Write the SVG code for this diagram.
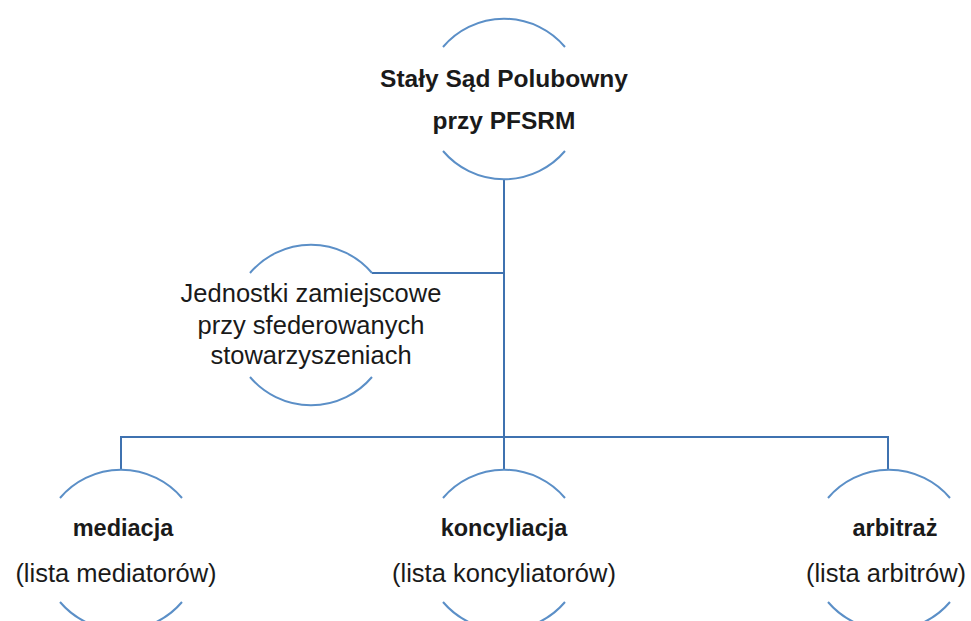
<svg xmlns="http://www.w3.org/2000/svg" width="971" height="621" viewBox="0 0 971 621">
<style>
.arc{fill:none;stroke:#5b8fc7;stroke-width:2}
.ln{fill:none;stroke:#3f72b0;stroke-width:2}
text{font-family:"Liberation Sans",Arial,sans-serif;fill:#1a1a1a;text-anchor:middle;font-size:25.5px}
.b{font-weight:bold;font-size:23.5px}
.bt{font-size:24.5px}
</style>
<rect width="971" height="621" fill="#fff"/>
<g id="connectors">
<path class="ln" d="M504 179 V437"/>
<path class="ln" d="M372 273 H504"/>
<path class="ln" d="M121 470 V437 H888 V470"/>
<path class="ln" d="M504 437 V470"/>
</g>
<g id="node-top">
<path class="arc" d="M443 47 A80 80 0 0 1 565 47"/>
<path class="arc" d="M443 151 A80 80 0 0 0 565 151"/>
<text class="b bt" x="504" y="87">Stały Sąd Polubowny</text>
<text class="b bt" x="504" y="129">przy PFSRM</text>
</g>
<g id="node-jednostki">
<path class="arc" d="M250 273 A80 80 0 0 1 372 273"/>
<path class="arc" d="M250 377 A80 80 0 0 0 372 377"/>
<text x="311" y="302">Jednostki zamiejscowe</text>
<text x="311" y="334">przy sfederowanych</text>
<text x="311" y="364">stowarzyszeniach</text>
</g>
<g id="node-mediacja">
<path class="arc" d="M60 498 A80 80 0 0 1 182 498"/>
<path class="arc" d="M60 602 A80 80 0 0 0 182 602"/>
<text class="b" x="123" y="536">mediacja</text>
<text x="116" y="582">(lista mediatorów)</text>
</g>
<g id="node-koncyliacja">
<path class="arc" d="M443 498 A80 80 0 0 1 565 498"/>
<path class="arc" d="M443 602 A80 80 0 0 0 565 602"/>
<text class="b" x="504" y="536">koncyliacja</text>
<text x="504" y="582">(lista koncyliatorów)</text>
</g>
<g id="node-arbitraz">
<path class="arc" d="M828 498 A80 80 0 0 1 950 498"/>
<path class="arc" d="M828 602 A80 80 0 0 0 950 602"/>
<text class="b" x="895" y="536">arbitraż</text>
<text x="886" y="582">(lista arbitrów)</text>
</g>
</svg>
